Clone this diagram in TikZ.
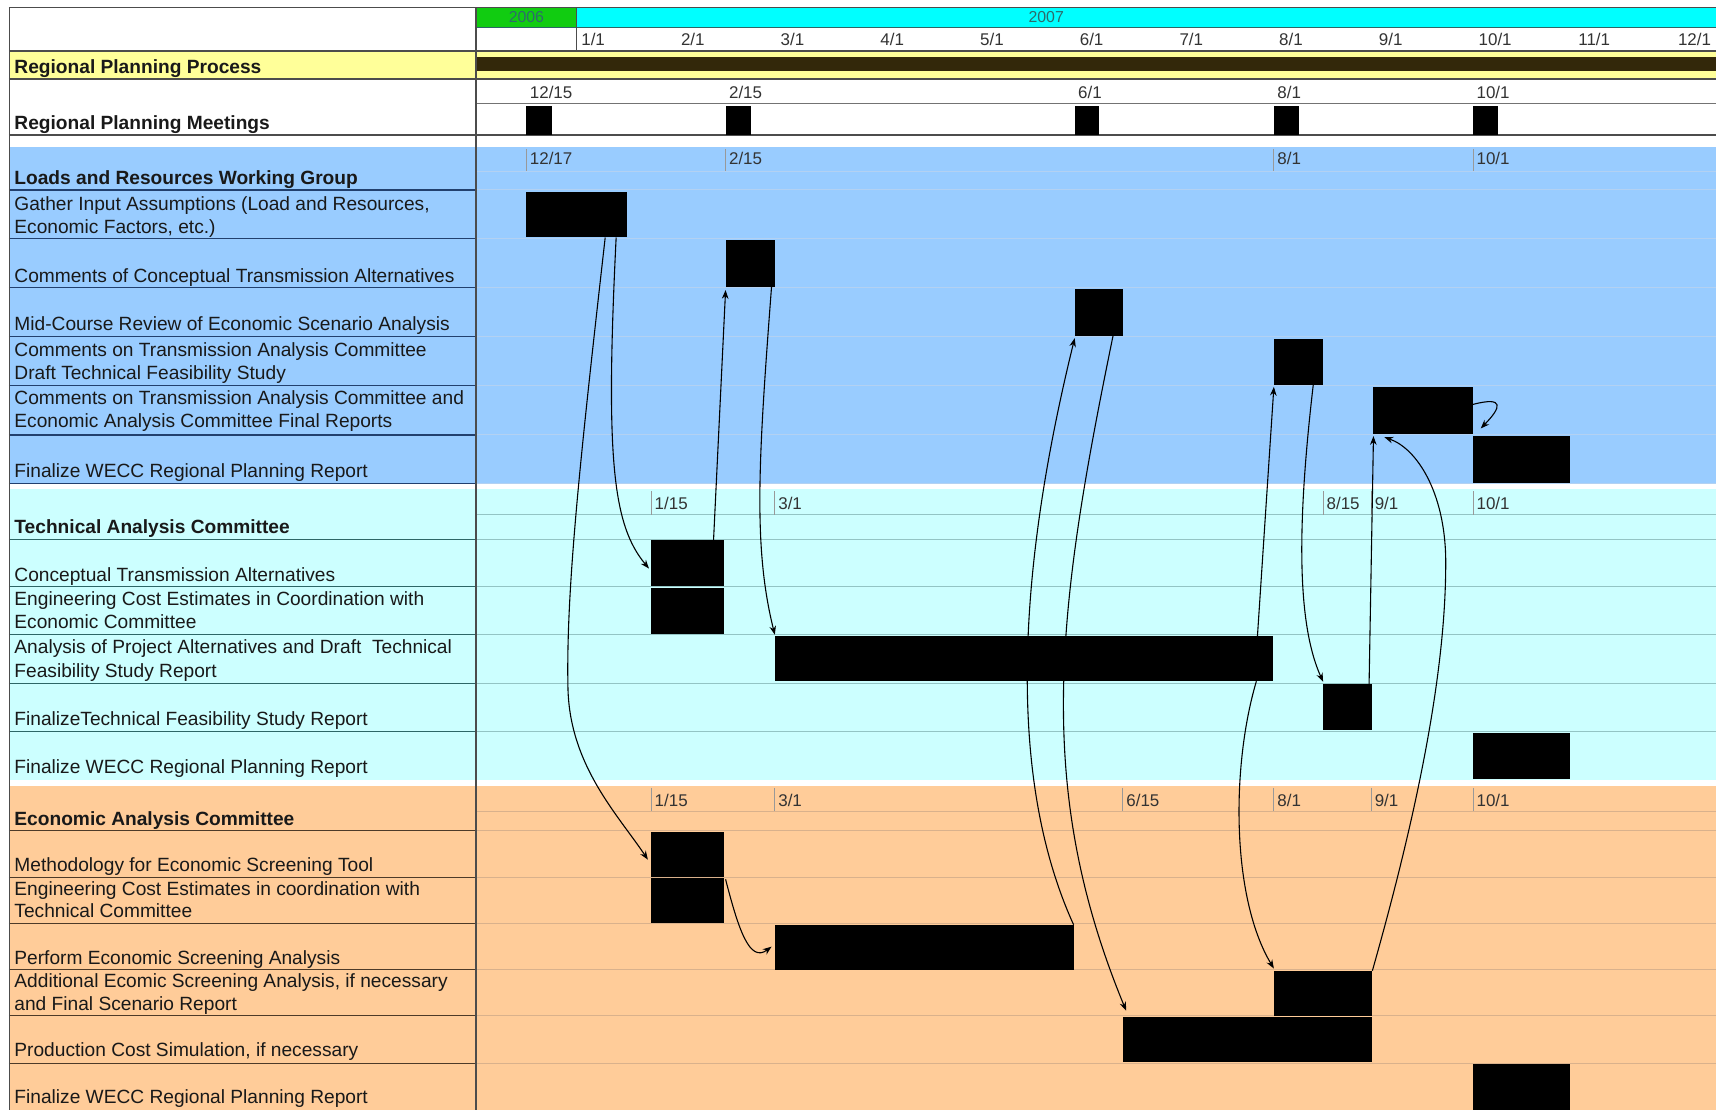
\documentclass[tikz,border=0pt]{standalone}
\usepackage{fontspec}
\setmainfont{Liberation Sans}
\usetikzlibrary{arrows.meta}
\usetikzlibrary{fit}
\definecolor{lrblue}{HTML}{99CCFF}
\definecolor{taccyan}{HTML}{CCFFFF}
\definecolor{eacorange}{HTML}{FFCC99}
\definecolor{rppyellow}{HTML}{FFFF99}
\definecolor{rppbrown}{HTML}{33280A}
\definecolor{yeargreen}{HTML}{11CC11}
\definecolor{yearcyan}{HTML}{00FFFF}
\definecolor{yeartext}{HTML}{2E6B6B}
\definecolor{lrdark}{HTML}{22406E}
\definecolor{lrlight}{HTML}{B3D1F2}
\definecolor{tacdark}{HTML}{2D6666}
\definecolor{taclight}{HTML}{93C4C4}
\definecolor{eacdark}{HTML}{4D3A28}
\definecolor{eaclight}{HTML}{D9B18C}
\tikzstyle{bar} = [rectangle, fill=black, inner sep=0pt, outer sep=0pt]
\tikzstyle{task} = [anchor=base west, inner sep=0pt, text=black!90, font=\fontsize{17.5}{21}\selectfont]
\tikzstyle{group} = [task, font=\fontsize{17.5}{21}\selectfont\bfseries]
\tikzstyle{datelabel} = [anchor=base west, inner sep=0pt, text=black!80, font=\fontsize{15.5}{18}\selectfont]
\tikzstyle{yearlabel} = [inner sep=0pt, text=yeartext, font=\fontsize{14.5}{17}\selectfont]
\tikzstyle{datetick} = [black!40, line width=0.8pt]
\tikzstyle{tblrule} = [black!70, line width=1.2pt]
\tikzstyle{depend} = [line width=1pt, -{Stealth[length=8pt,width=6pt]}]

\begin{document}
\begin{tikzpicture}[x=1pt, y=-1pt]
\useasboundingbox (0,0) rectangle (1568,1014);

% header with years and months
\fill[yeargreen] (435,7) rectangle (527,25.5);
\fill[yearcyan] (527,7) rectangle (1568,25.5);
\node[yearlabel] (y2006) at (481,16) {2006};
\node[yearlabel] (y2007) at (956,16) {2007};
\foreach \m [count=\i from 0] in {1,...,12}
  \node[datelabel] (month\m) at (531+91.1*\i,41.5) {\m/1};
\draw[tacdark, line width=1pt] (435,25.5) -- (1568,25.5);
\draw[black!70, line width=1pt] (527,7) -- (527,46.5);
\draw[tblrule] (8,7) -- (1568,7);
\draw[tblrule] (8,46.5) -- (1568,46.5);

% regional planning process
\fill[rppyellow] (8,47.5) rectangle (1568,72);
\node[bar, fill=rppbrown, fit={(435,52.5) (1568,64.5)}] (rpp) {};
\node[group] (lrpp) at (13,67.5) {Regional Planning Process};
\draw[tblrule] (8,72.2) -- (1568,72.2);

% regional planning meetings
\draw[black!55, line width=1pt] (435,94.5) -- (1568,94.5);
\draw[tblrule] (8,123.5) -- (1568,123.5);
\node[group] (lrpm) at (13,118.5) {Regional Planning Meetings};
\foreach \x/\d [count=\i] in {481/{12/15}, 663/{2/15}, 982/{6/1}, 1164/{8/1}, 1346/{10/1}}
  \node[datelabel] (mdate\i) at (\x+3,90) {\d};
\node[bar, fit={(481,97) (504,123)}] (meet1) {};
\node[bar, fit={(663,97) (686,123)}] (meet2) {};
\node[bar, fit={(982,97) (1004,123)}] (meet3) {};
\node[bar, fit={(1164,97) (1187,123)}] (meet4) {};
\node[bar, fit={(1346,97) (1369,123)}] (meet5) {};

% loads and resources working group
\fill[lrblue] (8,134) rectangle (1568,441.6);
\draw[lrlight, line width=1pt] (435,156.5) -- (1568,156.5);
\foreach \y in {173.5,218,263,307.6,352,397.4,441.6} {
  \draw[lrlight, line width=1pt] (435,\y) -- (1568,\y);
  \draw[lrdark, line width=1.2pt] (8,\y) -- (435,\y);
}
\foreach \x/\d [count=\i] in {481/{12/17}, 663/{2/15}, 1164/{8/1}, 1346/{10/1}} {
  \draw[datetick] (\x,136) -- (\x,156);
  \node[datelabel] (lrdate\i) at (\x+3,150.5) {\d};
}
\node[group] (llrwg) at (13,169) {Loads and Resources Working Group};
\node[task] (lgather1) at (13,192.5) {Gather Input Assumptions (Load and Resources,};
\node[task] (lgather2) at (13,213) {Economic Factors, etc.)};
\node[task] (lcmconc) at (13,258) {Comments of Conceptual Transmission Alternatives};
\node[task] (lmidrev) at (13,302) {Mid-Course Review of Economic Scenario Analysis};
\node[task] (lcmdraft1) at (13,326) {Comments on Transmission Analysis Committee};
\node[task] (lcmdraft2) at (13,347) {Draft Technical Feasibility Study};
\node[task] (lcmfinal1) at (13,370) {Comments on Transmission Analysis Committee and};
\node[task] (lcmfinal2) at (13,391) {Economic Analysis Committee Final Reports};
\node[task] (llrwecc) at (13,436) {Finalize WECC Regional Planning Report};
\node[bar, fit={(481,175) (573,217)}] (gather) {};
\node[bar, fit={(663,219.5) (708,262)}] (cmconc) {};
\node[bar, fit={(982,264.5) (1026,307)}] (midrev) {};
\node[bar, fit={(1164,309.5) (1209,351.5)}] (cmdraft) {};
\node[bar, fit={(1255,353.5) (1346,396.5)}] (cmfinal) {};
\node[bar, fit={(1346,398.5) (1435,441)}] (lrwecc) {};

% technical analysis committee
\fill[taccyan] (8,446.5) rectangle (1568,713);
\draw[taclight, line width=1pt] (435,470.5) -- (1568,470.5);
\foreach \y in {492.8,536,579.6,624.4,668.6} {
  \draw[taclight, line width=1pt] (435,\y) -- (1568,\y);
  \draw[tacdark, line width=1.2pt] (8,\y) -- (435,\y);
}
\foreach \x/\d [count=\i] in {595/{1/15}, 708/{3/1}, 1209/{8/15}, 1253/{9/1}, 1346/{10/1}} {
  \draw[datetick] (\x,449) -- (\x,470.5);
  \node[datelabel] (tacdate\i) at (\x+3,465.5) {\d};
}
\node[group] (ltac) at (13,487.5) {Technical Analysis Committee};
\node[task] (lconcalt) at (13,531) {Conceptual Transmission Alternatives};
\node[task] (ltengcost1) at (13,553) {Engineering Cost Estimates in Coordination with};
\node[task] (ltengcost2) at (13,574) {Economic Committee};
\node[task] (lanalysis1) at (13,597) {Analysis of Project Alternatives and Draft~ Technical};
\node[task] (lanalysis2) at (13,619) {Feasibility Study Report};
\node[task] (lfinaltfs) at (13,663) {FinalizeTechnical Feasibility Study Report};
\node[task] (ltacwecc) at (13,707) {Finalize WECC Regional Planning Report};
\node[bar, fit={(595,493.5) (662,535.5)}] (concalt) {};
\node[bar, fit={(595,537) (662,579)}] (tengcost) {};
\node[bar, fit={(708,581) (1163,622.5)}] (analysis) {};
\node[bar, fit={(1209,625) (1254,667)}] (finaltfs) {};
\node[bar, fit={(1346,669.5) (1435,712)}] (tacwecc) {};

% economic analysis committee
\fill[eacorange] (8,718) rectangle (1568,1014);
\draw[eaclight, line width=1pt] (435,741.5) -- (1568,741.5);
\foreach \y in {759,801.6,843.7,885.7,927.8,971.6} {
  \draw[eaclight, line width=1pt] (435,\y) -- (1568,\y);
  \draw[eacdark, line width=1.2pt] (8,\y) -- (435,\y);
}
\foreach \x/\d [count=\i] in {595/{1/15}, 708/{3/1}, 1026/{6/15}, 1164/{8/1}, 1253/{9/1}, 1346/{10/1}} {
  \draw[datetick] (\x,720) -- (\x,741.5);
  \node[datelabel] (eacdate\i) at (\x+3,736.5) {\d};
}
\node[group] (leac) at (13,754) {Economic Analysis Committee};
\node[task] (lmethod) at (13,796.5) {Methodology for Economic Screening Tool};
\node[task] (leengcost1) at (13,818) {Engineering Cost Estimates in coordination with};
\node[task] (leengcost2) at (13,838.5) {Technical Committee};
\node[task] (lperform) at (13,881) {Perform Economic Screening Analysis};
\node[task] (laddscreen1) at (13,902) {Additional Ecomic Screening Analysis, if necessary};
\node[task] (laddscreen2) at (13,923) {and Final Scenario Report};
\node[task] (lprodcost) at (13,965.5) {Production Cost Simulation, if necessary};
\node[task] (leacwecc) at (13,1008) {Finalize WECC Regional Planning Report};
\node[bar, fit={(595,760.5) (662,801)}] (method) {};
\node[bar, fit={(595,802.5) (662,843)}] (eengcost) {};
\node[bar, fit={(708,845) (981,886)}] (perform) {};
\node[bar, fit={(1164,887) (1254,928)}] (addscreen) {};
\node[bar, fit={(1026,929.5) (1254,970)}] (prodcost) {};
\node[bar, fit={(1346,972) (1435,1014)}] (eacwecc) {};

% table frame
\draw[tblrule] (8.5,7) -- (8.5,1014);
\draw[tblrule] (435,7) -- (435,1014);

% dependencies
\draw[depend] ([xshift=-20pt]gather.south east) .. controls (530,420) and (517,540) .. (519,630) .. controls (521,700) and (565,745) .. ([shift={(-3pt,-25pt)}]method.north west);
\draw[depend] ([xshift=-10pt]gather.south east) .. controls (553,420) and (560,480) .. ([shift={(-2pt,-26pt)}]concalt.north west);
\draw[depend] ([xshift=-10pt]concalt.north east) -- ([yshift=-3pt]cmconc.south west);
\draw[depend] ([xshift=-3pt]cmconc.south east) .. controls (693,420) and (688,500) .. ([yshift=1pt]analysis.north west);
\draw[depend] ([shift={(1pt,-1pt)}]eengcost.north east) .. controls (675,850) and (685,880) .. ([shift={(-3pt,-20pt)}]perform.north west);
\draw[depend] (perform.north east) .. controls (915,700) and (935,500) .. ([yshift=-2pt]midrev.south west);
\draw[depend] ([xshift=-9pt]midrev.south east) .. controls (965,560) and (945,720) .. ([shift={(3pt,6pt)}]prodcost.north west);
\draw[depend] ([xshift=-14pt]analysis.north east) -- ([yshift=-2pt]cmdraft.south west);
\draw[depend] ([xshift=-9pt]cmdraft.south east) .. controls (1185,480) and (1185,570) .. ([yshift=2pt]finaltfs.north west);
\draw[depend] ([xshift=-3pt]finaltfs.north east) -- ([yshift=-2pt]cmfinal.south west);
\draw[depend] (addscreen.north east) .. controls (1290,760) and (1322,620) .. (1321,510) .. controls (1320,450) and (1295,410) .. ([shift={(10pt,-3pt)}]cmfinal.south west);
\draw[depend] ([xshift=-15pt]analysis.south east) .. controls (1125,700) and (1125,820) .. ([yshift=2pt]addscreen.north west);
\draw[depend] ([yshift=-16pt]cmfinal.north east) .. controls (1375,362) and (1372,372) .. ([shift={(7pt,7pt)}]lrwecc.north west);
\end{tikzpicture}
\end{document}
